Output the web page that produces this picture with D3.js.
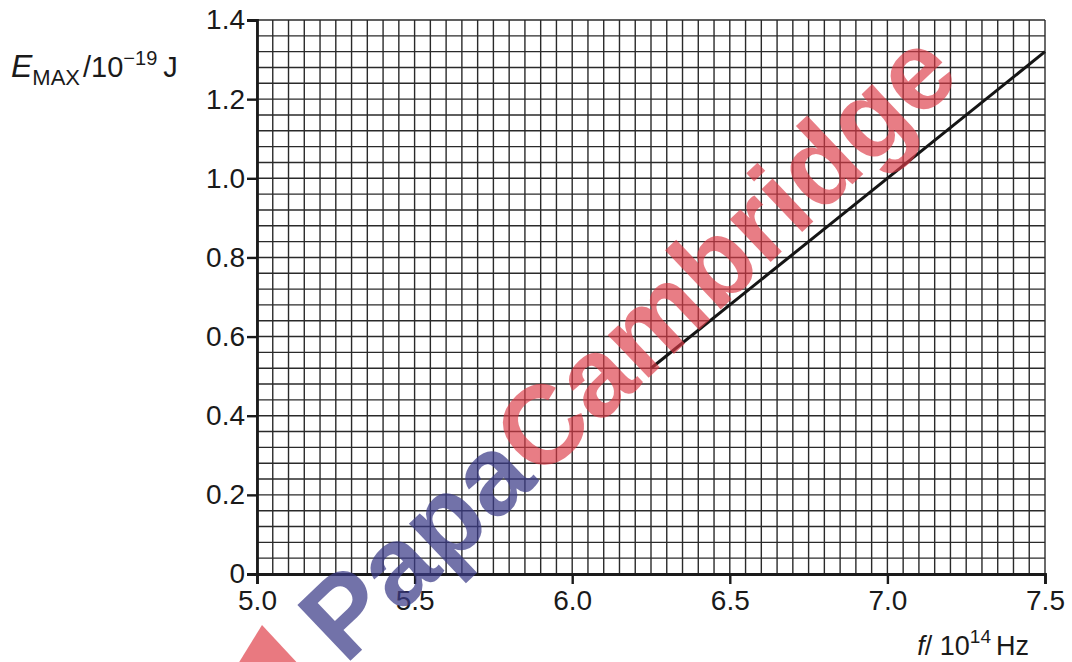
<!DOCTYPE html>
<html>
<head>
<meta charset="utf-8">
<script src="https://cdn.jsdelivr.net/npm/d3@7"></script>
<style>
  body { margin: 0; background: #fff; }
  svg text { font-family: "Liberation Sans", Arial, sans-serif; fill: #1a1a1a; }
</style>
</head>
<body>
<div id="chart-area"></div>
<script>

// Data
let freqTicks = [5.0, 5.5, 6.0, 6.5, 7.0, 7.5];
let energyTicks = [0, 0.2, 0.4, 0.6, 0.8, 1.0, 1.2, 1.4];
let lineFreq = [6.25, 7.5];
let lineEnergy = [0.52, 1.32];

// SVG drawing area
let margin = {top: 20, right: 27, bottom: 88, left: 257};
let width = 1072 - margin.left - margin.right,
    height = 662 - margin.top - margin.bottom;

let root = d3.select("#chart-area").append("svg")
    .attr("width", 1072)
    .attr("height", 662);

let svg = root.append("g")
    .attr("transform", "translate(" + margin.left + "," + margin.top + ")");

// Scales
let x = d3.scaleLinear().domain([5.0, 7.5]).range([0, width]);
let y = d3.scaleLinear().domain([0, 1.4]).range([height, 0]);

// graph-paper grid: 0.05 across, 0.04 up
let gridX = d3.range(0, 51).map(i => 5.0 + i * 0.05);
let gridY = d3.range(0, 36).map(i => i * 0.04);

svg.append("g").selectAll("line")
    .data(gridX)
  .enter().append("line")
    .attr("x1", d => x(d)).attr("x2", d => x(d))
    .attr("y1", 0).attr("y2", height)
    .attr("stroke", "#2a2a2a")
    .attr("stroke-width", 1.4);

svg.append("g").selectAll("line")
    .data(gridY)
  .enter().append("line")
    .attr("y1", d => y(d)).attr("y2", d => y(d))
    .attr("x1", 0).attr("x2", width)
    .attr("stroke", "#2a2a2a")
    .attr("stroke-width", 1.4);

// Axes
let xAxis = d3.axisBottom(x)
    .tickValues(freqTicks)
    .tickSize(10)
    .tickPadding(6)
    .tickFormat(d3.format(".1f"));

let yAxis = d3.axisLeft(y)
    .tickValues(energyTicks)
    .tickSize(10)
    .tickPadding(2)
    .tickFormat(d => d === 0 ? "0" : d3.format(".1f")(d));

let xAxisG = svg.append("g")
    .attr("class", "x-axis axis")
    .attr("transform", "translate(0," + height + ")")
    .call(xAxis);

let yAxisG = svg.append("g")
    .attr("class", "y-axis axis")
    .call(yAxis);

[xAxisG, yAxisG].forEach(g => {
  g.select(".domain").attr("stroke", "#1a1a1a").attr("stroke-width", 2.8);
  g.selectAll(".tick line").attr("stroke", "#1a1a1a").attr("stroke-width", 2.4);
  g.selectAll(".tick text").attr("font-size", 28).attr("fill", "#1a1a1a")
    .style("font-family", "Liberation Sans, Arial, sans-serif");
});

// the straight line
let lineData = lineFreq.map((f, i) => ({f: f, e: lineEnergy[i]}));
svg.append("path")
    .datum(lineData)
    .attr("fill", "none")
    .attr("stroke", "#151515")
    .attr("stroke-width", 3)
    .attr("d", d3.line().x(d => x(d.f)).y(d => y(d.e)));

// Axis titles
let yTitle = root.append("text")
    .attr("x", 11)
    .attr("y", 77)
    .attr("font-size", 29);
yTitle.append("tspan").attr("font-style", "italic").attr("font-size", 32).text("E");
yTitle.append("tspan").attr("font-size", 22).attr("dy", 8).text("MAX");
yTitle.append("tspan").attr("dy", -8).attr("dx", 3).text("/10");
yTitle.append("tspan").attr("font-size", 20).attr("dy", -12).text("\u221219");
yTitle.append("tspan").attr("dy", 12).attr("dx", 6).text("J");

let xTitle = root.append("text")
    .attr("x", 1029)
    .attr("y", 655)
    .attr("text-anchor", "end")
    .attr("font-size", 27);
xTitle.append("tspan").attr("font-style", "italic").text("f");
xTitle.append("tspan").text("/ 10");
xTitle.append("tspan").attr("font-size", 19).attr("dy", -12).text("14");
xTitle.append("tspan").attr("dy", 12).attr("dx", 5).text("Hz");

// watermark
root.append("polygon")
    .attr("points", "262,625 302,668 222,690")
    .attr("fill", "#e0404a")
    .attr("opacity", 0.7);

let wm = root.append("g")
    .attr("transform", "translate(345,666) rotate(-43.5)")
    .style("pointer-events", "none");

let wmText = wm.append("text")
    .attr("font-size", 112)
    .attr("font-weight", "bold")
    .style("font-family", "Liberation Sans, Arial, sans-serif");
wmText.append("tspan").attr("fill", "#3b3b88").attr("fill-opacity", 0.72).text("Papa");
wmText.append("tspan").attr("fill", "#dc3a46").attr("fill-opacity", 0.66).text("Cambridge");

</script>
</body>
</html>
